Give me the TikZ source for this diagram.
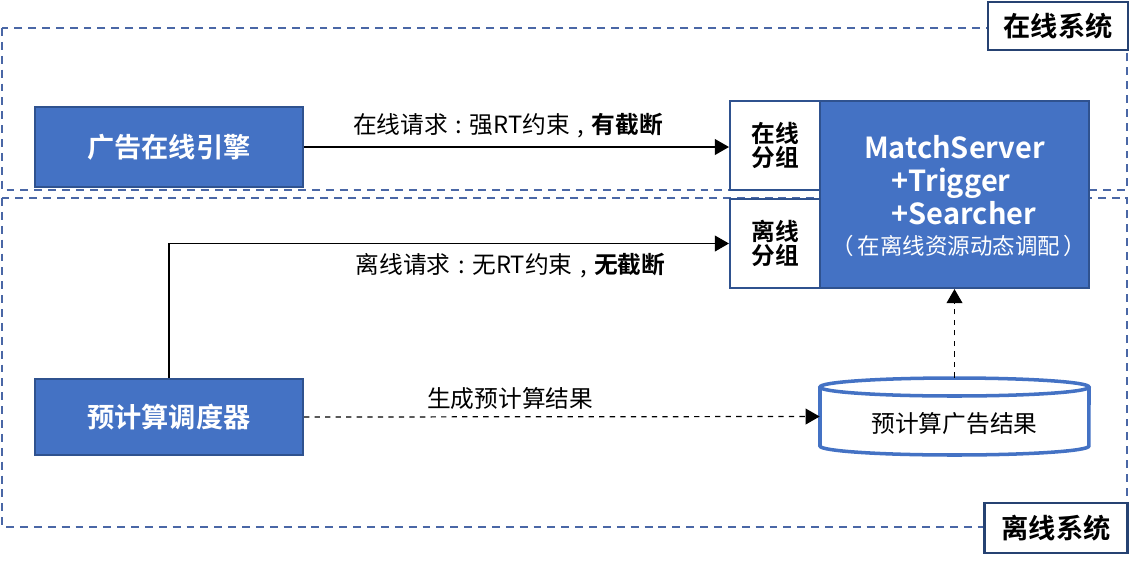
\documentclass[tikz,border=0pt]{standalone}
\usepackage{fontspec}
\setmainfont{Noto Sans CJK SC}[BoldFont={Noto Sans CJK SC Bold}]
\usetikzlibrary{arrows.meta}
\definecolor{bfill}{HTML}{4472C4}
\definecolor{bdraw}{HTML}{2F528F}
\definecolor{dashc}{HTML}{4A67A6}
\newcommand{\cpunct}[1]{\hspace{0.32em}#1\hspace{0.32em}}
\tikzset{
  bluebox/.style={draw=bdraw, line width=1.2pt, fill=bfill, text=white, font=\bfseries\fontsize{15.5}{18}\selectfont, align=center, inner sep=0pt},
  grpbox/.style={draw=bdraw, line width=1.2pt, fill=white, font=\bfseries\fontsize{13.5}{16}\selectfont, align=center, inner sep=0pt},
  sysbox/.style={draw=bdraw!80!black, line width=1.3pt, fill=white, font=\bfseries\fontsize{15.5}{18}\selectfont, inner sep=0pt},
  sysframe/.style={draw=dashc, line width=1.2pt, dash pattern=on 4.5pt off 3.4pt},
  lbl/.style={font=\fontsize{13.5}{16}\selectfont, inner sep=0pt},
  arr/.style={-{Triangle[length=8pt,width=9pt]}, line width=0.7pt},
  cyl/.style={draw=bfill, line width=2pt}
}
\begin{document}
\begin{tikzpicture}[x=0.02cm, y=-0.02cm]
\useasboundingbox (0,0) rectangle (1130,562);
% system frames
\draw[sysframe] (2,28) rectangle (1127,190);
\draw[sysframe] (2,198) rectangle (1127,527);
% boxes
\node[bluebox, minimum width=5.36cm, minimum height=1.6cm] (eng) at (169,147) {广告在线引擎};
\node[bluebox, minimum width=5.36cm, minimum height=1.52cm] (sched) at (169,417) {预计算调度器};
\node[grpbox, minimum width=1.8cm, minimum height=1.78cm] (ongrp) at (775,145.5) {在线\\[-2pt]分组};
\node[grpbox, minimum width=1.8cm, minimum height=1.78cm] (offgrp) at (775,243.5) {离线\\[-2pt]分组};
\node[bluebox, minimum width=5.38cm, minimum height=3.74cm] (ms) at (954.5,194.5) {};
\node[text=white, font=\bfseries\fontsize{16.5}{18.7}\selectfont, align=left, inner sep=0pt] (mst) at (954.5,180) {MatchServer\\\hspace*{0.95em}+Trigger\\\hspace*{0.95em}+Searcher};
\node[text=white, font=\fontsize{12.8}{15}\selectfont, inner sep=0pt] (msn) at (959,246) {（\hspace{0.15em}在离线资源动态调配\hspace{0.15em}）};
% cylinder
\fill[white] (820,387) -- (820,446) arc[start angle=180,end angle=360,x radius=2.69cm,y radius=0.18cm] -- (1089,387) -- cycle;
\draw[cyl] (820,387) -- (820,446) arc[start angle=180,end angle=360,x radius=2.69cm,y radius=0.18cm] -- (1089,387);
\draw[cyl, fill=white] (954.5,387) ellipse [x radius=2.69cm, y radius=0.18cm];
\node[minimum width=5.38cm, minimum height=1.54cm, inner sep=0pt] (db) at (954.5,416.5) {};
\node[lbl] (dbt) at (954.5,424) {预计算广告结果};
% system labels
\node[sysbox, minimum width=2.8cm, minimum height=0.96cm] (onsys) at (1058,26) {在线系统};
\node[sysbox, minimum width=2.86cm, minimum height=1cm] (offsys) at (1056,528) {离线系统};
% connectors
\draw[arr] (eng.east) -- (eng.east -| ongrp.west) node[lbl, pos=0.48, above=5pt] (l1) {在线请求\cpunct{:}强RT约束\cpunct{,}\textbf{有截断}};
\draw[arr] (sched.north) |- (offgrp.west) node[lbl, pos=0.805, below=5pt] (l2) {离线请求\cpunct{:}无RT约束\cpunct{,}\textbf{无截断}};
\draw[arr, dashed] (sched.east) -- (db.west) node[lbl, pos=0.4, above=4pt] (l3) {生成预计算结果};
\draw[arr, dashed] (db.north) -- (ms.south);
\end{tikzpicture}
\end{document}
